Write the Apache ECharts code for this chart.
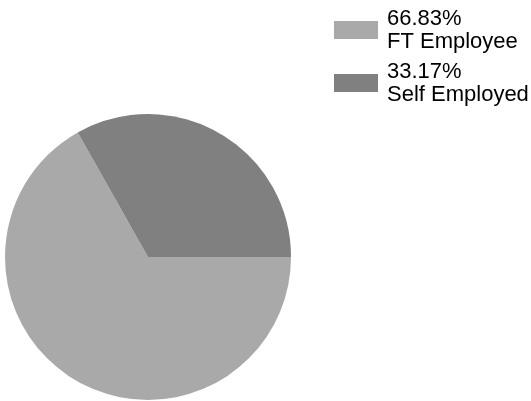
<!DOCTYPE html>
<html>
<head>
<meta charset="utf-8">
<script src="https://cdn.jsdelivr.net/npm/echarts@6/dist/echarts.min.js"></script>
<style>
html,body{margin:0;padding:0;background:#fff;}
#c{width:531px;height:401px;}
</style>
</head>
<body>
<div id="c"></div>
<script>
var categories = ['FT Employee', 'Self Employed'];
var percents = [66.83, 33.17];
var colors = ['#a9a9a9', '#808080'];

var data = categories.map(function (c, i) {
  return { name: c, value: percents[i], itemStyle: { color: colors[i] } };
});

var chart = echarts.init(document.getElementById('c'), null, { renderer: 'canvas' });
chart.setOption({
  animation: false,
  backgroundColor: '#ffffff',
  legend: {
    orient: 'vertical',
    left: 334,
    top: 7,
    icon: 'rect',
    itemWidth: 44,
    itemHeight: 18,
    itemGap: 7,
    selectedMode: false,
    padding: 0,
    formatter: function (name) {
      var i = categories.indexOf(name);
      return percents[i].toFixed(2) + '%\n' + name;
    },
    textStyle: {
      color: '#000',
      fontFamily: 'Liberation Sans',
      fontSize: 22,
      lineHeight: 23,
      padding: [0, 0, 0, 4]
    },
    data: categories
  },
  series: [{
    type: 'pie',
    center: [148, 257],
    radius: 143,
    startAngle: 0,
    clockwise: true,
    label: { show: false },
    labelLine: { show: false },
    emphasis: { disabled: true },
    itemStyle: { borderWidth: 0 },
    data: data
  }]
});
</script>
</body>
</html>
